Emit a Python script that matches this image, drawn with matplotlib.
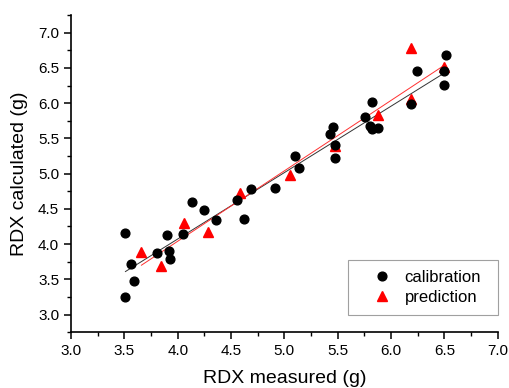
import matplotlib
matplotlib.use("Agg")
import matplotlib.pyplot as plt
import numpy as np
from matplotlib.ticker import MultipleLocator

plt.rcParams['font.family'] = ['Liberation Sans', 'DejaVu Sans']

cal_x = [3.51, 3.51, 3.56, 3.59, 3.81, 3.90, 3.92, 3.93, 4.05, 4.13, 4.25, 4.36,
         4.56, 4.62, 4.69, 4.91, 5.10, 5.14, 5.43, 5.46, 5.47, 5.47, 5.76, 5.80,
         5.82, 5.82, 5.88, 6.19, 6.24, 6.50, 6.50, 6.51]
cal_y = [3.25, 4.16, 3.72, 3.47, 3.87, 4.13, 3.90, 3.79, 4.14, 4.60, 4.49, 4.34,
         4.62, 4.36, 4.78, 4.80, 5.25, 5.08, 5.56, 5.66, 5.22, 5.41, 5.81, 5.68,
         6.02, 5.63, 5.65, 5.99, 6.46, 6.26, 6.45, 6.69]
pred_x = [3.66, 3.84, 4.06, 4.28, 4.58, 5.05, 5.47, 5.88, 6.19, 6.19, 6.50]
pred_y = [3.89, 3.69, 4.30, 4.17, 4.72, 4.98, 5.39, 5.83, 6.06, 6.78, 6.52]

cal_fit = (0.943, 0.30)
pred_fit = (1.00, 0.04)

fig = plt.figure(figsize=(5.09, 3.88), dpi=100)
ax = fig.add_axes([0.1395, 0.144, 0.8385, 0.817])

xc = np.array([min(cal_x), max(cal_x)])
xp = np.array([min(pred_x), max(pred_x)])
ax.plot(xc, cal_fit[0]*xc + cal_fit[1], color='#333333', lw=0.7, zorder=1)
ax.plot(xp, pred_fit[0]*xp + pred_fit[1], color='#ff3030', lw=0.7, zorder=1)

ax.plot(cal_x, cal_y, 'o', color='black', ms=6.3, label='calibration', zorder=3)
ax.plot(pred_x, pred_y, '^', color='red', ms=6.8, label='prediction', zorder=2)

ax.set_xlim(3.0, 7.0)
ax.set_ylim(2.75, 7.25)
ax.xaxis.set_minor_locator(MultipleLocator(0.25))
ax.yaxis.set_minor_locator(MultipleLocator(0.25))
ax.set_xticks(np.arange(3.0, 7.01, 0.5))
ax.set_xticklabels([f"{v:.1f}" for v in np.arange(3.0, 7.01, 0.5)])
ax.set_yticks(np.arange(3.0, 7.01, 0.5))
ax.set_yticklabels([f"{v:.1f}" for v in np.arange(3.0, 7.01, 0.5)])
ax.spines['top'].set_visible(False)
ax.spines['right'].set_visible(False)
for s in ['left', 'bottom']:
    ax.spines[s].set_linewidth(1.2)
ax.tick_params(which='major', direction='out', length=5, width=1.1, labelsize=11)
ax.tick_params(which='minor', direction='out', length=3, width=1.0)

ax.set_xlabel('RDX measured (g)', fontsize=14, labelpad=9)
ax.set_ylabel('RDX calculated (g)', fontsize=14, labelpad=7)

leg = ax.legend(loc='lower left', fontsize=12, frameon=True, fancybox=False,
                edgecolor='#888888', borderpad=0.6, handletextpad=-0.1,
                handlelength=2.9, borderaxespad=0, labelspacing=0.3,
                mode='expand', bbox_to_anchor=(0.649, 0.054, 0.351, 0.164))
leg.get_frame().set_linewidth(0.8)

fig.savefig('out.png', dpi=100)
